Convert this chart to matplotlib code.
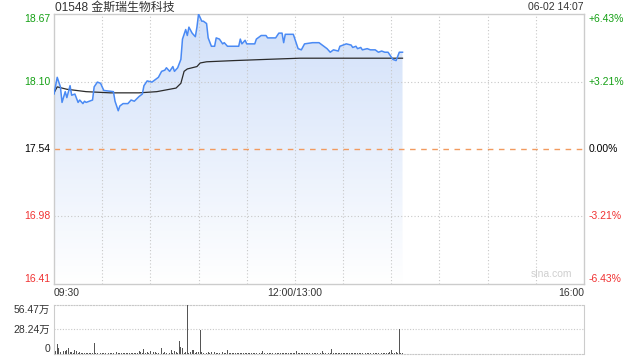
import numpy as np
import matplotlib
matplotlib.use('Agg')
import matplotlib.pyplot as plt
from matplotlib.colors import LinearSegmentedColormap
from matplotlib.patches import Polygon

plt.rcParams['font.family'] = ['Liberation Sans', 'Noto Sans CJK SC', 'DejaVu Sans']

title = '01548 金斯瑞生物科技'
stamp = '06-02 14:07'
prev_close = 17.54

price_ticks = [16.41, 16.98, 17.54, 18.10, 18.67]
price_labels = ['16.41', '16.98', '17.54', '18.10', '18.67']
pct_labels = ['-6.43%', '-3.21%', '0.00%', '+3.21%', '+6.43%']
time_labels = ['09:30', '12:00/13:00', '16:00']
time_pos = [0, 150, 330]   # minutes of trading after 09:30, lunch removed

# price line (minute, price)
price_min = [0, 2, 4, 5, 7, 8, 10, 11, 13, 15, 16, 18, 19, 20, 22, 24, 25, 27, 29, 31,
             37, 38, 40, 41, 43, 46, 48, 50, 53, 55, 56, 58, 61, 63, 65, 67, 69, 70, 72, 74,
             75, 77, 79, 80, 82, 83, 84, 86, 88, 89, 90, 92, 93, 95, 96, 98, 100, 101, 103, 105,
             106, 108, 115, 116, 117, 119, 120, 125, 126, 129, 132, 133, 138, 140, 142, 143, 144, 149, 152, 154,
             156, 161, 165, 168, 170, 172, 174, 177, 178, 182, 185, 186, 188, 189, 191, 192, 195, 197, 200, 202,
             204, 206, 208, 210, 211, 213, 215, 217]
price_val = [18.00, 18.14, 18.06, 17.93, 18.02, 17.97, 18.07, 17.99, 18.00, 17.93, 17.95, 17.92, 17.94, 17.93, 17.94, 17.95, 18.06, 18.10, 18.09, 18.03,
             18.02, 17.94, 17.86, 17.90, 17.92, 17.92, 17.95, 17.94, 17.98, 18.00, 18.07, 18.11, 18.10, 18.12, 18.14, 18.19, 18.20, 18.22, 18.19, 18.23,
             18.19, 18.22, 18.29, 18.46, 18.54, 18.49, 18.56, 18.51, 18.48, 18.56, 18.67, 18.61, 18.61, 18.59, 18.47, 18.40, 18.40, 18.47, 18.46, 18.42,
             18.43, 18.40, 18.40, 18.46, 18.42, 18.45, 18.42, 18.42, 18.46, 18.49, 18.49, 18.47, 18.47, 18.51, 18.51, 18.43, 18.50, 18.50, 18.38, 18.37,
             18.42, 18.43, 18.43, 18.40, 18.38, 18.35, 18.37, 18.36, 18.40, 18.42, 18.41, 18.39, 18.40, 18.38, 18.39, 18.37, 18.38, 18.37, 18.37, 18.35,
             18.36, 18.35, 18.35, 18.31, 18.29, 18.28, 18.35, 18.35]

# average price line
avg_min = [0, 2, 8, 20, 35, 53, 64, 76, 79, 81, 83, 89, 91, 95, 112, 132, 153, 165, 211, 217]
avg_val = [18.01, 18.06, 18.04, 18.02, 18.01, 18.01, 18.02, 18.05, 18.09, 18.19, 18.21, 18.23, 18.26, 18.27,
           18.28, 18.29, 18.30, 18.30, 18.30, 18.30]

# volume per minute, in 万
vol = [5.4, 3.0, 11.5, 6.5, 2.0, 4.6, 3.0, 4.0, 5.0, 6.5,
       2.0, 2.2, 1.6, 4.6, 3.5, 1.4, 2.0, 1.5, 1.5, 1.2,
       1.5, 1.0, 1.5, 1.5, 1.1, 13.0, 1.3, 1.5, 2.5, 1.2,
       1.4, 1.0, 1.2, 0.9, 1.1, 1.3, 1.0, 1.2, 2.5, 2.0,
       1.1, 0.9, 1.0, 1.3, 1.2, 1.0, 1.4, 1.1, 1.3, 1.0,
       1.2, 1.5, 1.1, 3.5, 2.0, 1.3, 5.8, 1.2, 2.7, 1.4,
       3.5, 1.2, 2.0, 2.0, 1.0, 1.3, 1.1, 7.3, 1.4, 2.3,
       1.2, 1.5, 1.3, 4.6, 1.1, 3.5, 2.7, 1.6, 15.4, 8.5,
       6.5, 1.5, 1.8, 56.47, 1.5, 2.2, 4.6, 4.6, 1.4, 2.0,
       2.7, 28.0, 2.7, 1.5, 4.0, 1.3, 2.0, 1.4, 2.7, 1.2,
       2.7, 1.3, 1.5, 1.2, 1.0, 2.7, 1.4, 1.1, 4.6, 1.3,
       1.0, 1.2, 0.9, 1.1, 1.3, 1.0, 1.2, 0.9, 1.1, 1.4,
       1.0, 1.2, 1.1, 0.9, 1.3, 1.0, 1.2, 1.1, 0.9, 1.2,
       3.5, 1.1, 1.0, 1.3, 0.9, 1.2, 1.0, 1.1, 1.3, 0.9,
       1.2, 1.0, 1.1, 1.4, 0.9, 1.2, 1.0, 1.3, 1.1, 1.5,
       1.2, 3.5, 1.0, 1.3, 1.1, 0.9, 1.2, 1.4, 1.0, 1.1,
       1.3, 0.9, 1.2, 1.0, 1.1, 1.4, 1.0, 3.5, 1.2, 0.9,
       1.1, 1.3, 1.0, 5.8, 1.2, 1.0, 1.4, 1.1, 0.9, 1.2,
       1.0, 1.3, 1.1, 0.9, 1.2, 1.0, 1.4, 1.1, 1.0, 1.3,
       0.9, 1.2, 1.0, 1.1, 1.3, 1.0, 1.2, 0.9, 1.1, 1.4,
       1.0, 1.2, 1.1, 0.9, 1.3, 1.0, 1.2, 1.1, 1.4, 2.0,
       4.6, 1.3, 1.1, 2.0, 1.2, 28.8, 1.5, 1.2]
vol_ticks = [0, 28.24, 56.47]
vol_labels = ['0', '28.24万', '56.47万']

GREEN = '#14a014'
RED = '#f03232'
DARK = '#333333'
BORDER = '#cccccc'

fig = plt.figure(figsize=(6.4, 3.6), dpi=100)
ax = fig.add_axes([54 / 640, 1 - 284 / 360, 530 / 640, 270 / 360])
axv = fig.add_axes([54 / 640, 1 - 354 / 360, 530 / 640, 49 / 360])

ymin, ymax = price_ticks[0], price_ticks[-1]
ax.set_xlim(0, 330)
ax.set_ylim(ymin, ymax)

# gradient fill under the price line
cmap = LinearSegmentedColormap.from_list('fill', ['#ffffff', '#d1e0f9'])
grad = np.linspace(0, 1, 256).reshape(-1, 1)
im = ax.imshow(grad, extent=[0, 330, ymin, ymax], origin='lower', aspect='auto',
               cmap=cmap, zorder=1)
verts = list(zip(price_min, price_val)) + [(price_min[-1], ymin), (price_min[0], ymin)]
clip = Polygon(verts, facecolor='none', edgecolor='none')
ax.add_patch(clip)
im.set_clip_path(clip)

# grid
for v in price_ticks[1:-1]:
    if v == prev_close:
        continue
    ax.axhline(v, color='#c8c8c8', lw=0.8, ls=(0, (1, 2)), zorder=2)
for m in range(30, 330, 30):
    ax.axvline(m, color='#c8c8c8', lw=0.8, ls=(0, (1, 2)), zorder=2)
ax.axhline(prev_close, color='#f29a5e', lw=1.0, ls=(0, (4, 4)), zorder=2)

ax.plot(price_min, price_val, color='#4a8af4', lw=1.1, zorder=4)
ax.plot(avg_min, avg_val, color='#2b2b2b', lw=0.9, zorder=3)

ax.set_xticks([])
ax.set_yticks([])
for s in ax.spines.values():
    s.set_color(BORDER)
    s.set_linewidth(1)

for v, lp, rp in zip(price_ticks, price_labels, pct_labels):
    c = GREEN if v > prev_close else (RED if v < prev_close else 'black')
    va = 'top' if v == ymax else ('bottom' if v == ymin else 'center')
    ax.annotate(lp, xy=(0, v), xycoords=('axes fraction', 'data'), xytext=(-4, 0),
                textcoords='offset pixels', ha='right', va=va, color=c, fontsize=7.5)
    ax.annotate(rp, xy=(1, v), xycoords=('axes fraction', 'data'), xytext=(5, 0),
                textcoords='offset pixels', ha='left', va=va, color=c, fontsize=7.5)

for lbl, m, ha in zip(time_labels, time_pos, ['left', 'center', 'right']):
    ax.annotate(lbl, xy=(m, 0), xycoords=('data', 'axes fraction'), xytext=(0, -9),
                textcoords='offset pixels', ha=ha, va='center', color=DARK, fontsize=7.5)

fig.text(55 / 640, 1 - 8 / 360, title, ha='left', va='center', fontsize=8.6, color=DARK)
fig.text(584 / 640, 1 - 7.5 / 360, stamp, ha='right', va='center', fontsize=7.5, color=DARK)
ax.text(0.977, 0.02, 'sina.com', transform=ax.transAxes, ha='right', va='bottom',
        fontsize=7.5, color='#cfcfcf')

# volume panel
axv.set_xlim(0, 330)
axv.set_ylim(0, vol_ticks[-1])
axv.bar(np.arange(len(vol)), vol, width=0.55, color='#555555', zorder=3)
axv.axhline(vol_ticks[1], color='#c8c8c8', lw=0.8, ls=(0, (1, 1.5)), zorder=1)
axv.set_xticks([])
axv.set_yticks([])
for k in ['left', 'right']:
    axv.spines[k].set_color(BORDER)
for k in ['top', 'bottom']:
    axv.spines[k].set_color('#c8c8c8')
    axv.spines[k].set_linestyle((0, (1, 1.5)))
    axv.spines[k].set_linewidth(0.8)
for v, lbl in zip(vol_ticks, vol_labels):
    va = 'top' if v == vol_ticks[-1] else ('bottom' if v == 0 else 'center')
    axv.annotate(lbl, xy=(0, v), xycoords=('axes fraction', 'data'), xytext=(-4, 0),
                 textcoords='offset pixels', ha='right', va=va, color=DARK, fontsize=7.5)

fig.savefig('out.png', dpi=100)
